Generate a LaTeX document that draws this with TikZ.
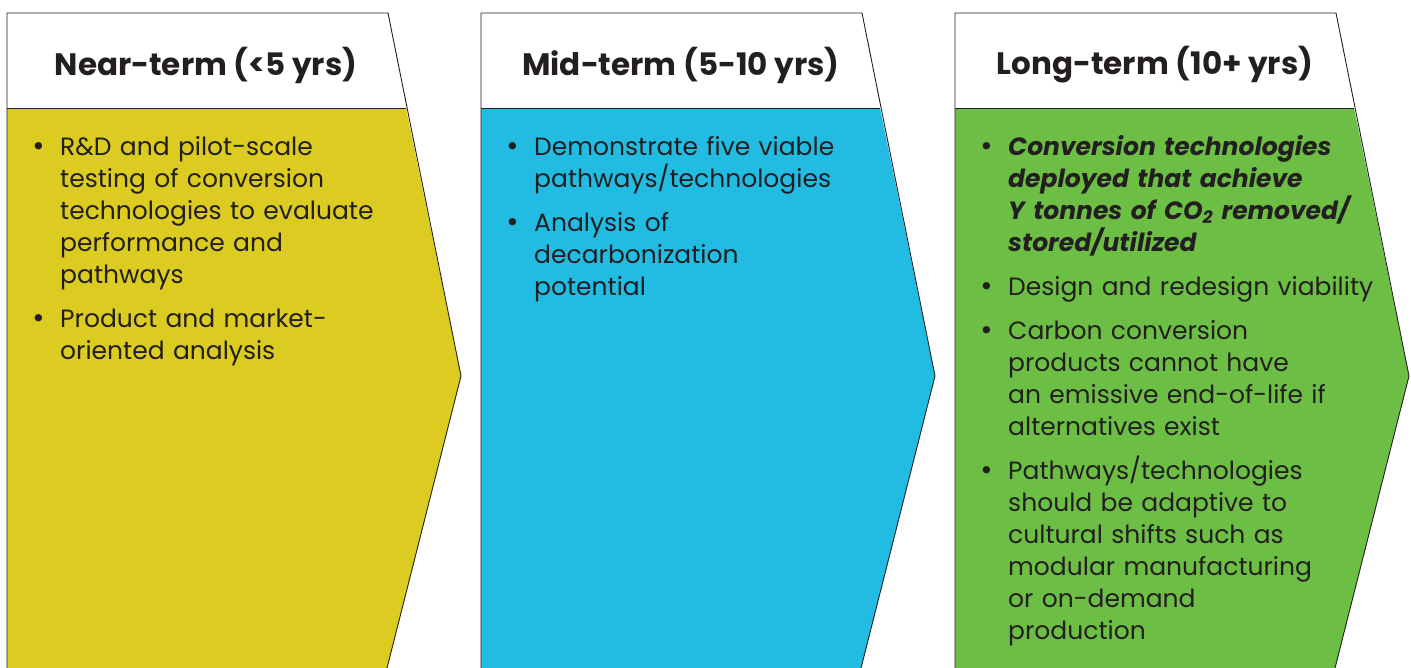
\documentclass[tikz,border=0pt]{standalone}
\usepackage{fontspec}
\setmainfont{Poppins}
\newfontfamily\dotfont{DejaVu Sans}
\usetikzlibrary{calc}
\definecolor{ink}{HTML}{231F20}
\definecolor{near}{HTML}{DCCB20}
\definecolor{mid}{HTML}{22BCE3}
\definecolor{long}{HTML}{6CBE45}
\tikzset{
  edge/.style={draw=ink, line width=0.9pt, line join=miter},
  head/.style={text=ink, font=\fontsize{31}{36}\selectfont\bfseries},
  body/.style={text=ink, font=\fontsize{25}{32}\selectfont, anchor=north west,
    align=left, text width=450pt, inner sep=0pt},
}
\newcommand{\bul}[1]{\par\noindent\makebox[29pt][l]{\dotfont •}%
  \raisebox{0pt}[22.4pt]{\parbox[t]{410pt}{\raggedright\lineskiplimit=-100pt\strut #1\strut}}}

\begin{document}
\begin{tikzpicture}[x=1pt,y=-1pt]
  \useasboundingbox (0,0) rectangle (1411,667);

  % the three chevrons, cut off at the bottom
  \begin{scope}
    \clip (0,0) rectangle (1411,667);
    \foreach \l/\c in {7/near,481/mid,955/long}{
      \fill[\c] (\l,108) -- (\l+399,108) -- (\l+454,376) -- (\l+379,672) -- (\l,672) -- cycle;
      \draw[edge] (\l,672) -- (\l,13) -- (\l+381,13) -- (\l+454,376) -- (\l+379,672);
      \draw[edge] (\l,108) -- (\l+399,108);
    }
  \end{scope}

  \node[head] (near) at (206,65) {Near-term (<5 yrs)};
  \node[head] (mid) at (681,65) {Mid-term (5-10 yrs)};
  \node[head] (long) at (1155,65) {Long-term (10+ yrs)};

  \node[body] (nearlist) at (31,112) {\setlength{\parskip}{11pt}%
    \bul{R\&D and pilot-scale\\testing of conversion\\technologies to evaluate\\performance and\\pathways}
    \bul{Product and market-\\oriented analysis}};

  \node[body] (midlist) at (505,112) {\setlength{\parskip}{11pt}%
    \bul{Demonstrate five viable\\pathways/technologies}
    \bul{Analysis of\\decarbonization\\potential}};

  \node[body] (longlist) at (979,112) {\setlength{\parskip}{11pt}%
    \bul{\bfseries\itshape Conversion technologies\\deployed that achieve\\Y tonnes of CO\textsubscript{2} removed/\\stored/utilized}
    \bul{Design and redesign viability}
    \bul{Carbon conversion\\products cannot have\\an emissive end-of-life if\\alternatives exist}
    \bul{Pathways/technologies\\should be adaptive to\\cultural shifts such as\\modular manufacturing\\or on-demand\\production}};
\end{tikzpicture}
\end{document}
